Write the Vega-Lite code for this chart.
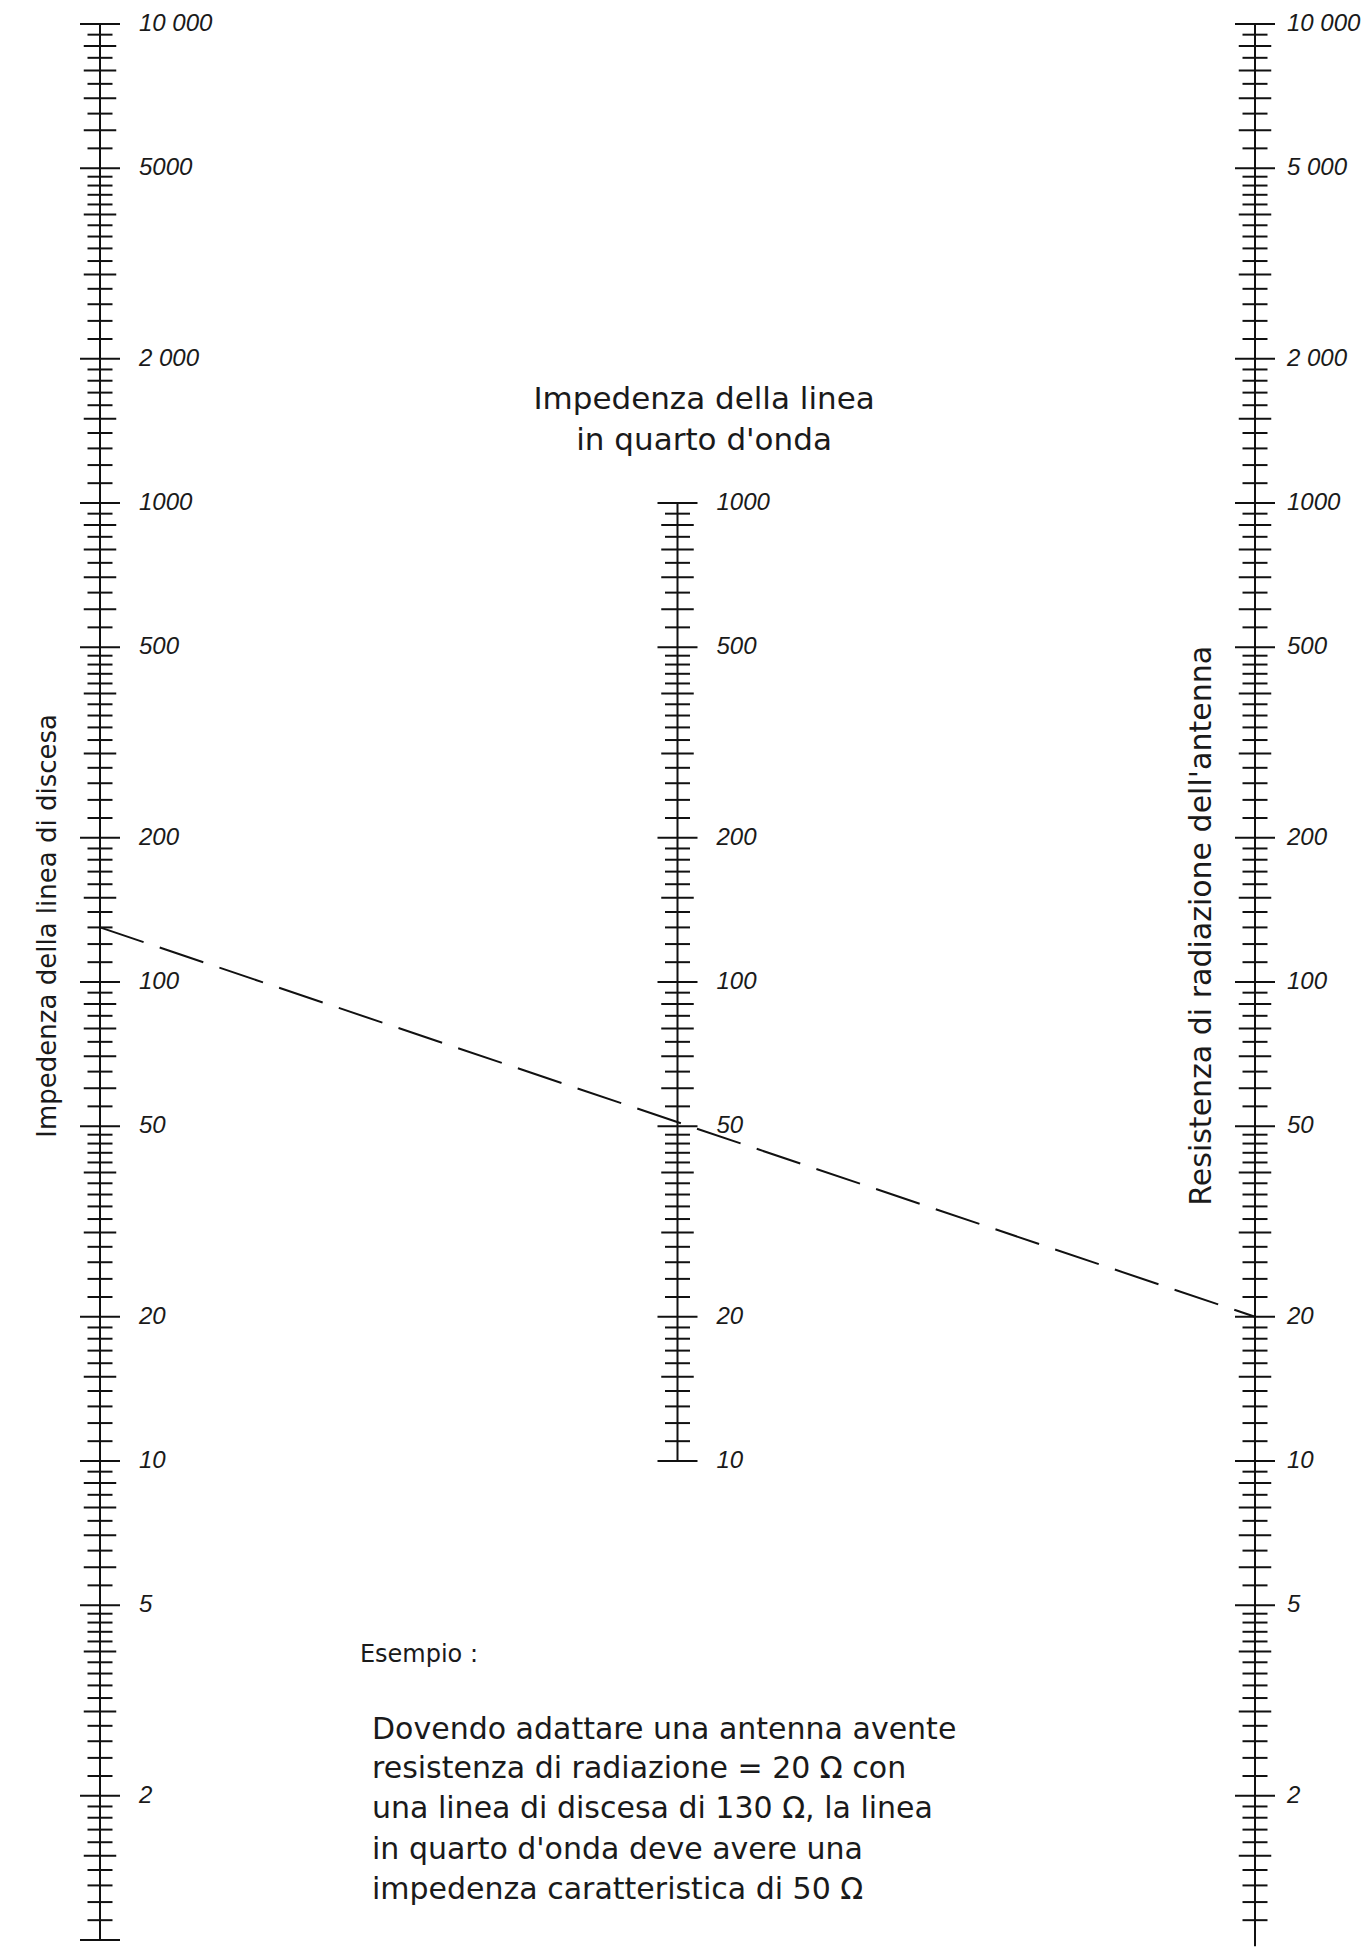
{
  "$schema": "https://vega.github.io/schema/vega-lite/v6.json",
  "autosize": {"type": "none"},
  "padding": {"left": 100, "top": 24, "right": 112, "bottom": 7},
  "width": 1155,
  "height": 1916,
  "background": "white",
  "config": {"view": {"stroke": null}},
  "datasets": {
    "ticks": [
      {"axis":0,"value":1,"kind":"major"},{"axis":0,"value":1.1,"kind":"minor"},{"axis":0,"value":1.2,"kind":"minor"},{"axis":0,"value":1.3,"kind":"minor"},{"axis":0,"value":1.4,"kind":"minor"},{"axis":0,"value":1.5,"kind":"medium"},{"axis":0,"value":1.6,"kind":"minor"},{"axis":0,"value":1.7,"kind":"minor"},{"axis":0,"value":1.8,"kind":"minor"},{"axis":0,"value":1.9,"kind":"minor"},
      {"axis":0,"value":2,"kind":"major"},{"axis":0,"value":2.2,"kind":"minor"},{"axis":0,"value":2.4,"kind":"minor"},{"axis":0,"value":2.6,"kind":"minor"},{"axis":0,"value":2.8,"kind":"minor"},{"axis":0,"value":3,"kind":"medium"},{"axis":0,"value":3.2,"kind":"minor"},{"axis":0,"value":3.4,"kind":"minor"},{"axis":0,"value":3.6,"kind":"minor"},{"axis":0,"value":3.8,"kind":"minor"},
      {"axis":0,"value":4,"kind":"medium"},{"axis":0,"value":4.2,"kind":"minor"},{"axis":0,"value":4.4,"kind":"minor"},{"axis":0,"value":4.6,"kind":"minor"},{"axis":0,"value":4.8,"kind":"minor"},{"axis":0,"value":5,"kind":"major"},{"axis":0,"value":5.5,"kind":"minor"},{"axis":0,"value":6,"kind":"medium"},{"axis":0,"value":6.5,"kind":"minor"},{"axis":0,"value":7,"kind":"medium"},{"axis":0,"value":7.5,"kind":"minor"},{"axis":0,"value":8,"kind":"medium"},{"axis":0,"value":8.5,"kind":"minor"},{"axis":0,"value":9,"kind":"medium"},{"axis":0,"value":9.5,"kind":"minor"},
      {"axis":0,"value":10,"kind":"major"},{"axis":0,"value":11,"kind":"minor"},{"axis":0,"value":12,"kind":"minor"},{"axis":0,"value":13,"kind":"minor"},{"axis":0,"value":14,"kind":"minor"},{"axis":0,"value":15,"kind":"medium"},{"axis":0,"value":16,"kind":"minor"},{"axis":0,"value":17,"kind":"minor"},{"axis":0,"value":18,"kind":"minor"},{"axis":0,"value":19,"kind":"minor"},
      {"axis":0,"value":20,"kind":"major"},{"axis":0,"value":22,"kind":"minor"},{"axis":0,"value":24,"kind":"minor"},{"axis":0,"value":26,"kind":"minor"},{"axis":0,"value":28,"kind":"minor"},{"axis":0,"value":30,"kind":"medium"},{"axis":0,"value":32,"kind":"minor"},{"axis":0,"value":34,"kind":"minor"},{"axis":0,"value":36,"kind":"minor"},{"axis":0,"value":38,"kind":"minor"},
      {"axis":0,"value":40,"kind":"medium"},{"axis":0,"value":42,"kind":"minor"},{"axis":0,"value":44,"kind":"minor"},{"axis":0,"value":46,"kind":"minor"},{"axis":0,"value":48,"kind":"minor"},{"axis":0,"value":50,"kind":"major"},{"axis":0,"value":55,"kind":"minor"},{"axis":0,"value":60,"kind":"medium"},{"axis":0,"value":65,"kind":"minor"},{"axis":0,"value":70,"kind":"medium"},{"axis":0,"value":75,"kind":"minor"},{"axis":0,"value":80,"kind":"medium"},{"axis":0,"value":85,"kind":"minor"},{"axis":0,"value":90,"kind":"medium"},{"axis":0,"value":95,"kind":"minor"},
      {"axis":0,"value":100,"kind":"major"},{"axis":0,"value":110,"kind":"minor"},{"axis":0,"value":120,"kind":"minor"},{"axis":0,"value":130,"kind":"minor"},{"axis":0,"value":140,"kind":"minor"},{"axis":0,"value":150,"kind":"medium"},{"axis":0,"value":160,"kind":"minor"},{"axis":0,"value":170,"kind":"minor"},{"axis":0,"value":180,"kind":"minor"},{"axis":0,"value":190,"kind":"minor"},
      {"axis":0,"value":200,"kind":"major"},{"axis":0,"value":220,"kind":"minor"},{"axis":0,"value":240,"kind":"minor"},{"axis":0,"value":260,"kind":"minor"},{"axis":0,"value":280,"kind":"minor"},{"axis":0,"value":300,"kind":"medium"},{"axis":0,"value":320,"kind":"minor"},{"axis":0,"value":340,"kind":"minor"},{"axis":0,"value":360,"kind":"minor"},{"axis":0,"value":380,"kind":"minor"},
      {"axis":0,"value":400,"kind":"medium"},{"axis":0,"value":420,"kind":"minor"},{"axis":0,"value":440,"kind":"minor"},{"axis":0,"value":460,"kind":"minor"},{"axis":0,"value":480,"kind":"minor"},{"axis":0,"value":500,"kind":"major"},{"axis":0,"value":550,"kind":"minor"},{"axis":0,"value":600,"kind":"medium"},{"axis":0,"value":650,"kind":"minor"},{"axis":0,"value":700,"kind":"medium"},{"axis":0,"value":750,"kind":"minor"},{"axis":0,"value":800,"kind":"medium"},{"axis":0,"value":850,"kind":"minor"},{"axis":0,"value":900,"kind":"medium"},{"axis":0,"value":950,"kind":"minor"},
      {"axis":0,"value":1000,"kind":"major"},{"axis":0,"value":1100,"kind":"minor"},{"axis":0,"value":1200,"kind":"minor"},{"axis":0,"value":1300,"kind":"minor"},{"axis":0,"value":1400,"kind":"minor"},{"axis":0,"value":1500,"kind":"medium"},{"axis":0,"value":1600,"kind":"minor"},{"axis":0,"value":1700,"kind":"minor"},{"axis":0,"value":1800,"kind":"minor"},{"axis":0,"value":1900,"kind":"minor"},
      {"axis":0,"value":2000,"kind":"major"},{"axis":0,"value":2200,"kind":"minor"},{"axis":0,"value":2400,"kind":"minor"},{"axis":0,"value":2600,"kind":"minor"},{"axis":0,"value":2800,"kind":"minor"},{"axis":0,"value":3000,"kind":"medium"},{"axis":0,"value":3200,"kind":"minor"},{"axis":0,"value":3400,"kind":"minor"},{"axis":0,"value":3600,"kind":"minor"},{"axis":0,"value":3800,"kind":"minor"},
      {"axis":0,"value":4000,"kind":"medium"},{"axis":0,"value":4200,"kind":"minor"},{"axis":0,"value":4400,"kind":"minor"},{"axis":0,"value":4600,"kind":"minor"},{"axis":0,"value":4800,"kind":"minor"},{"axis":0,"value":5000,"kind":"major"},{"axis":0,"value":5500,"kind":"minor"},{"axis":0,"value":6000,"kind":"medium"},{"axis":0,"value":6500,"kind":"minor"},{"axis":0,"value":7000,"kind":"medium"},{"axis":0,"value":7500,"kind":"minor"},{"axis":0,"value":8000,"kind":"medium"},{"axis":0,"value":8500,"kind":"minor"},{"axis":0,"value":9000,"kind":"medium"},{"axis":0,"value":9500,"kind":"minor"},
      {"axis":0,"value":10000,"kind":"major"},

      {"axis":1,"value":10,"kind":"major"},{"axis":1,"value":11,"kind":"minor"},{"axis":1,"value":12,"kind":"minor"},{"axis":1,"value":13,"kind":"minor"},{"axis":1,"value":14,"kind":"minor"},{"axis":1,"value":15,"kind":"medium"},{"axis":1,"value":16,"kind":"minor"},{"axis":1,"value":17,"kind":"minor"},{"axis":1,"value":18,"kind":"minor"},{"axis":1,"value":19,"kind":"minor"},
      {"axis":1,"value":20,"kind":"major"},{"axis":1,"value":22,"kind":"minor"},{"axis":1,"value":24,"kind":"minor"},{"axis":1,"value":26,"kind":"minor"},{"axis":1,"value":28,"kind":"minor"},{"axis":1,"value":30,"kind":"medium"},{"axis":1,"value":32,"kind":"minor"},{"axis":1,"value":34,"kind":"minor"},{"axis":1,"value":36,"kind":"minor"},{"axis":1,"value":38,"kind":"minor"},
      {"axis":1,"value":40,"kind":"medium"},{"axis":1,"value":42,"kind":"minor"},{"axis":1,"value":44,"kind":"minor"},{"axis":1,"value":46,"kind":"minor"},{"axis":1,"value":48,"kind":"minor"},{"axis":1,"value":50,"kind":"major"},{"axis":1,"value":55,"kind":"minor"},{"axis":1,"value":60,"kind":"medium"},{"axis":1,"value":65,"kind":"minor"},{"axis":1,"value":70,"kind":"medium"},{"axis":1,"value":75,"kind":"minor"},{"axis":1,"value":80,"kind":"medium"},{"axis":1,"value":85,"kind":"minor"},{"axis":1,"value":90,"kind":"medium"},{"axis":1,"value":95,"kind":"minor"},
      {"axis":1,"value":100,"kind":"major"},{"axis":1,"value":110,"kind":"minor"},{"axis":1,"value":120,"kind":"minor"},{"axis":1,"value":130,"kind":"minor"},{"axis":1,"value":140,"kind":"minor"},{"axis":1,"value":150,"kind":"medium"},{"axis":1,"value":160,"kind":"minor"},{"axis":1,"value":170,"kind":"minor"},{"axis":1,"value":180,"kind":"minor"},{"axis":1,"value":190,"kind":"minor"},
      {"axis":1,"value":200,"kind":"major"},{"axis":1,"value":220,"kind":"minor"},{"axis":1,"value":240,"kind":"minor"},{"axis":1,"value":260,"kind":"minor"},{"axis":1,"value":280,"kind":"minor"},{"axis":1,"value":300,"kind":"medium"},{"axis":1,"value":320,"kind":"minor"},{"axis":1,"value":340,"kind":"minor"},{"axis":1,"value":360,"kind":"minor"},{"axis":1,"value":380,"kind":"minor"},
      {"axis":1,"value":400,"kind":"medium"},{"axis":1,"value":420,"kind":"minor"},{"axis":1,"value":440,"kind":"minor"},{"axis":1,"value":460,"kind":"minor"},{"axis":1,"value":480,"kind":"minor"},{"axis":1,"value":500,"kind":"major"},{"axis":1,"value":550,"kind":"minor"},{"axis":1,"value":600,"kind":"medium"},{"axis":1,"value":650,"kind":"minor"},{"axis":1,"value":700,"kind":"medium"},{"axis":1,"value":750,"kind":"minor"},{"axis":1,"value":800,"kind":"medium"},{"axis":1,"value":850,"kind":"minor"},{"axis":1,"value":900,"kind":"medium"},{"axis":1,"value":950,"kind":"minor"},
      {"axis":1,"value":1000,"kind":"major"},

      {"axis":2,"value":1.1,"kind":"minor"},{"axis":2,"value":1.2,"kind":"minor"},{"axis":2,"value":1.3,"kind":"minor"},{"axis":2,"value":1.4,"kind":"minor"},{"axis":2,"value":1.5,"kind":"medium"},{"axis":2,"value":1.6,"kind":"minor"},{"axis":2,"value":1.7,"kind":"minor"},{"axis":2,"value":1.8,"kind":"minor"},{"axis":2,"value":1.9,"kind":"minor"},
      {"axis":2,"value":2,"kind":"major"},{"axis":2,"value":2.2,"kind":"minor"},{"axis":2,"value":2.4,"kind":"minor"},{"axis":2,"value":2.6,"kind":"minor"},{"axis":2,"value":2.8,"kind":"minor"},{"axis":2,"value":3,"kind":"medium"},{"axis":2,"value":3.2,"kind":"minor"},{"axis":2,"value":3.4,"kind":"minor"},{"axis":2,"value":3.6,"kind":"minor"},{"axis":2,"value":3.8,"kind":"minor"},
      {"axis":2,"value":4,"kind":"medium"},{"axis":2,"value":4.2,"kind":"minor"},{"axis":2,"value":4.4,"kind":"minor"},{"axis":2,"value":4.6,"kind":"minor"},{"axis":2,"value":4.8,"kind":"minor"},{"axis":2,"value":5,"kind":"major"},{"axis":2,"value":5.5,"kind":"minor"},{"axis":2,"value":6,"kind":"medium"},{"axis":2,"value":6.5,"kind":"minor"},{"axis":2,"value":7,"kind":"medium"},{"axis":2,"value":7.5,"kind":"minor"},{"axis":2,"value":8,"kind":"medium"},{"axis":2,"value":8.5,"kind":"minor"},{"axis":2,"value":9,"kind":"medium"},{"axis":2,"value":9.5,"kind":"minor"},
      {"axis":2,"value":10,"kind":"major"},{"axis":2,"value":11,"kind":"minor"},{"axis":2,"value":12,"kind":"minor"},{"axis":2,"value":13,"kind":"minor"},{"axis":2,"value":14,"kind":"minor"},{"axis":2,"value":15,"kind":"medium"},{"axis":2,"value":16,"kind":"minor"},{"axis":2,"value":17,"kind":"minor"},{"axis":2,"value":18,"kind":"minor"},{"axis":2,"value":19,"kind":"minor"},
      {"axis":2,"value":20,"kind":"major"},{"axis":2,"value":22,"kind":"minor"},{"axis":2,"value":24,"kind":"minor"},{"axis":2,"value":26,"kind":"minor"},{"axis":2,"value":28,"kind":"minor"},{"axis":2,"value":30,"kind":"medium"},{"axis":2,"value":32,"kind":"minor"},{"axis":2,"value":34,"kind":"minor"},{"axis":2,"value":36,"kind":"minor"},{"axis":2,"value":38,"kind":"minor"},
      {"axis":2,"value":40,"kind":"medium"},{"axis":2,"value":42,"kind":"minor"},{"axis":2,"value":44,"kind":"minor"},{"axis":2,"value":46,"kind":"minor"},{"axis":2,"value":48,"kind":"minor"},{"axis":2,"value":50,"kind":"major"},{"axis":2,"value":55,"kind":"minor"},{"axis":2,"value":60,"kind":"medium"},{"axis":2,"value":65,"kind":"minor"},{"axis":2,"value":70,"kind":"medium"},{"axis":2,"value":75,"kind":"minor"},{"axis":2,"value":80,"kind":"medium"},{"axis":2,"value":85,"kind":"minor"},{"axis":2,"value":90,"kind":"medium"},{"axis":2,"value":95,"kind":"minor"},
      {"axis":2,"value":100,"kind":"major"},{"axis":2,"value":110,"kind":"minor"},{"axis":2,"value":120,"kind":"minor"},{"axis":2,"value":130,"kind":"minor"},{"axis":2,"value":140,"kind":"minor"},{"axis":2,"value":150,"kind":"medium"},{"axis":2,"value":160,"kind":"minor"},{"axis":2,"value":170,"kind":"minor"},{"axis":2,"value":180,"kind":"minor"},{"axis":2,"value":190,"kind":"minor"},
      {"axis":2,"value":200,"kind":"major"},{"axis":2,"value":220,"kind":"minor"},{"axis":2,"value":240,"kind":"minor"},{"axis":2,"value":260,"kind":"minor"},{"axis":2,"value":280,"kind":"minor"},{"axis":2,"value":300,"kind":"medium"},{"axis":2,"value":320,"kind":"minor"},{"axis":2,"value":340,"kind":"minor"},{"axis":2,"value":360,"kind":"minor"},{"axis":2,"value":380,"kind":"minor"},
      {"axis":2,"value":400,"kind":"medium"},{"axis":2,"value":420,"kind":"minor"},{"axis":2,"value":440,"kind":"minor"},{"axis":2,"value":460,"kind":"minor"},{"axis":2,"value":480,"kind":"minor"},{"axis":2,"value":500,"kind":"major"},{"axis":2,"value":550,"kind":"minor"},{"axis":2,"value":600,"kind":"medium"},{"axis":2,"value":650,"kind":"minor"},{"axis":2,"value":700,"kind":"medium"},{"axis":2,"value":750,"kind":"minor"},{"axis":2,"value":800,"kind":"medium"},{"axis":2,"value":850,"kind":"minor"},{"axis":2,"value":900,"kind":"medium"},{"axis":2,"value":950,"kind":"minor"},
      {"axis":2,"value":1000,"kind":"major"},{"axis":2,"value":1100,"kind":"minor"},{"axis":2,"value":1200,"kind":"minor"},{"axis":2,"value":1300,"kind":"minor"},{"axis":2,"value":1400,"kind":"minor"},{"axis":2,"value":1500,"kind":"medium"},{"axis":2,"value":1600,"kind":"minor"},{"axis":2,"value":1700,"kind":"minor"},{"axis":2,"value":1800,"kind":"minor"},{"axis":2,"value":1900,"kind":"minor"},
      {"axis":2,"value":2000,"kind":"major"},{"axis":2,"value":2200,"kind":"minor"},{"axis":2,"value":2400,"kind":"minor"},{"axis":2,"value":2600,"kind":"minor"},{"axis":2,"value":2800,"kind":"minor"},{"axis":2,"value":3000,"kind":"medium"},{"axis":2,"value":3200,"kind":"minor"},{"axis":2,"value":3400,"kind":"minor"},{"axis":2,"value":3600,"kind":"minor"},{"axis":2,"value":3800,"kind":"minor"},
      {"axis":2,"value":4000,"kind":"medium"},{"axis":2,"value":4200,"kind":"minor"},{"axis":2,"value":4400,"kind":"minor"},{"axis":2,"value":4600,"kind":"minor"},{"axis":2,"value":4800,"kind":"minor"},{"axis":2,"value":5000,"kind":"major"},{"axis":2,"value":5500,"kind":"minor"},{"axis":2,"value":6000,"kind":"medium"},{"axis":2,"value":6500,"kind":"minor"},{"axis":2,"value":7000,"kind":"medium"},{"axis":2,"value":7500,"kind":"minor"},{"axis":2,"value":8000,"kind":"medium"},{"axis":2,"value":8500,"kind":"minor"},{"axis":2,"value":9000,"kind":"medium"},{"axis":2,"value":9500,"kind":"minor"},
      {"axis":2,"value":10000,"kind":"major"}
    ],
    "labels": [
      {"axis":0,"value":10000,"label":"10 000"},{"axis":0,"value":5000,"label":"5000"},{"axis":0,"value":2000,"label":"2 000"},{"axis":0,"value":1000,"label":"1000"},{"axis":0,"value":500,"label":"500"},{"axis":0,"value":200,"label":"200"},{"axis":0,"value":100,"label":"100"},{"axis":0,"value":50,"label":"50"},{"axis":0,"value":20,"label":"20"},{"axis":0,"value":10,"label":"10"},{"axis":0,"value":5,"label":"5"},{"axis":0,"value":2,"label":"2"},
      {"axis":1,"value":1000,"label":"1000"},{"axis":1,"value":500,"label":"500"},{"axis":1,"value":200,"label":"200"},{"axis":1,"value":100,"label":"100"},{"axis":1,"value":50,"label":"50"},{"axis":1,"value":20,"label":"20"},{"axis":1,"value":10,"label":"10"},
      {"axis":2,"value":10000,"label":"10 000"},{"axis":2,"value":5000,"label":"5 000"},{"axis":2,"value":2000,"label":"2 000"},{"axis":2,"value":1000,"label":"1000"},{"axis":2,"value":500,"label":"500"},{"axis":2,"value":200,"label":"200"},{"axis":2,"value":100,"label":"100"},{"axis":2,"value":50,"label":"50"},{"axis":2,"value":20,"label":"20"},{"axis":2,"value":10,"label":"10"},{"axis":2,"value":5,"label":"5"},{"axis":2,"value":2,"label":"2"}
    ]
  },
  "layer": [
    {
      "data": {"values": [{"axis":0,"lo":1,"hi":10000},{"axis":1,"lo":10,"hi":1000},{"axis":2,"lo":0.97,"hi":10000}]},
      "mark": {"type": "rule", "strokeWidth": 2, "color": "#111111"},
      "encoding": {
        "x": {"field": "axis", "type": "quantitative", "scale": {"domain": [0, 2], "nice": false, "zero": false}, "axis": null},
        "y": {"field": "lo", "type": "quantitative", "scale": {"type": "log", "domain": [1, 10000], "nice": false}, "axis": null},
        "y2": {"field": "hi"}
      }
    },
    {
      "data": {"name": "ticks"},
      "mark": {"type": "tick", "orient": "horizontal", "thickness": 2, "color": "#111111", "opacity": 1},
      "encoding": {
        "x": {"field": "axis", "type": "quantitative", "scale": {"domain": [0, 2], "nice": false, "zero": false}, "axis": null},
        "y": {"field": "value", "type": "quantitative", "scale": {"type": "log", "domain": [1, 10000], "nice": false}, "axis": null},
        "size": {"field": "kind", "type": "ordinal", "scale": {"domain": ["major", "medium", "minor"], "range": [40, 25, 13]}, "legend": null}
      }
    },
    {
      "data": {"values": [{"axis":0,"value":130},{"axis":2,"value":20}]},
      "mark": {"type": "line", "strokeWidth": 2, "strokeDash": [46, 17], "color": "#111111"},
      "encoding": {
        "x": {"field": "axis", "type": "quantitative", "scale": {"domain": [0, 2], "nice": false, "zero": false}, "axis": null},
        "y": {"field": "value", "type": "quantitative", "scale": {"type": "log", "domain": [1, 10000], "nice": false}, "axis": null}
      }
    },
    {
      "data": {"name": "labels"},
      "transform": [{"filter": "datum.axis < 2"}],
      "mark": {"type": "text", "align": "left", "baseline": "middle", "dx": 39, "font": "Liberation Sans", "fontStyle": "italic", "fontSize": 24, "color": "#1a1a1a"},
      "encoding": {
        "x": {"field": "axis", "type": "quantitative", "scale": {"domain": [0, 2], "nice": false, "zero": false}, "axis": null},
        "y": {"field": "value", "type": "quantitative", "scale": {"type": "log", "domain": [1, 10000], "nice": false}, "axis": null},
        "text": {"field": "label"}
      }
    },
    {
      "data": {"name": "labels"},
      "transform": [{"filter": "datum.axis == 2"}],
      "mark": {"type": "text", "align": "left", "baseline": "middle", "dx": 32, "font": "Liberation Sans", "fontStyle": "italic", "fontSize": 24, "color": "#1a1a1a"},
      "encoding": {
        "x": {"field": "axis", "type": "quantitative", "scale": {"domain": [0, 2], "nice": false, "zero": false}, "axis": null},
        "y": {"field": "value", "type": "quantitative", "scale": {"type": "log", "domain": [1, 10000], "nice": false}, "axis": null},
        "text": {"field": "label"}
      }
    },
    {
      "data": {"values": [
        {"x": -0.09, "value": 131, "text": "Impedenza della linea di discesa"}
      ]},
      "mark": {"type": "text", "align": "center", "baseline": "middle", "angle": 270, "font": "DejaVu Sans", "fontSize": 26, "color": "#1a1a1a"},
      "encoding": {
        "x": {"field": "x", "type": "quantitative", "scale": {"domain": [0, 2], "nice": false, "zero": false}, "axis": null},
        "y": {"field": "value", "type": "quantitative", "scale": {"type": "log", "domain": [1, 10000], "nice": false}, "axis": null},
        "text": {"field": "text"}
      }
    },
    {
      "data": {"values": [
        {"x": 1.908, "value": 131, "text": "Resistenza di radiazione dell'antenna"}
      ]},
      "mark": {"type": "text", "align": "center", "baseline": "middle", "angle": 270, "font": "DejaVu Sans", "fontSize": 30, "color": "#1a1a1a"},
      "encoding": {
        "x": {"field": "x", "type": "quantitative", "scale": {"domain": [0, 2], "nice": false, "zero": false}, "axis": null},
        "y": {"field": "value", "type": "quantitative", "scale": {"type": "log", "domain": [1, 10000], "nice": false}, "axis": null},
        "text": {"field": "text"}
      }
    },
    {
      "data": {"values": [
        {"x": 1.046, "value": 1641, "text": "Impedenza della linea"},
        {"x": 1.046, "value": 1346, "text": "in quarto d'onda"}
      ]},
      "mark": {"type": "text", "align": "center", "baseline": "middle", "font": "DejaVu Sans", "fontSize": 31, "color": "#1a1a1a"},
      "encoding": {
        "x": {"field": "x", "type": "quantitative", "scale": {"domain": [0, 2], "nice": false, "zero": false}, "axis": null},
        "y": {"field": "value", "type": "quantitative", "scale": {"type": "log", "domain": [1, 10000], "nice": false}, "axis": null},
        "text": {"field": "text"}
      }
    },
    {
      "data": {"values": [
        {"x": 0.45, "value": 3.94, "text": "Esempio :"}
      ]},
      "mark": {"type": "text", "align": "left", "baseline": "middle", "font": "DejaVu Sans", "fontSize": 24, "color": "#1a1a1a"},
      "encoding": {
        "x": {"field": "x", "type": "quantitative", "scale": {"domain": [0, 2], "nice": false, "zero": false}, "axis": null},
        "y": {"field": "value", "type": "quantitative", "scale": {"type": "log", "domain": [1, 10000], "nice": false}, "axis": null},
        "text": {"field": "text"}
      }
    },
    {
      "data": {"values": [
        {"x": 0.471, "value": 2.744, "text": "Dovendo adattare una antenna avente"},
        {"x": 0.471, "value": 2.276, "text": "resistenza di radiazione = 20 Ω  con"},
        {"x": 0.471, "value": 1.877, "text": "una linea di discesa di 130 Ω, la linea"},
        {"x": 0.471, "value": 1.542, "text": "in quarto d'onda deve avere una"},
        {"x": 0.471, "value": 1.272, "text": "impedenza caratteristica di 50 Ω"}
      ]},
      "mark": {"type": "text", "align": "left", "baseline": "middle", "font": "DejaVu Sans", "fontSize": 30, "color": "#1a1a1a"},
      "encoding": {
        "x": {"field": "x", "type": "quantitative", "scale": {"domain": [0, 2], "nice": false, "zero": false}, "axis": null},
        "y": {"field": "value", "type": "quantitative", "scale": {"type": "log", "domain": [1, 10000], "nice": false}, "axis": null},
        "text": {"field": "text"}
      }
    }
  ]
}
